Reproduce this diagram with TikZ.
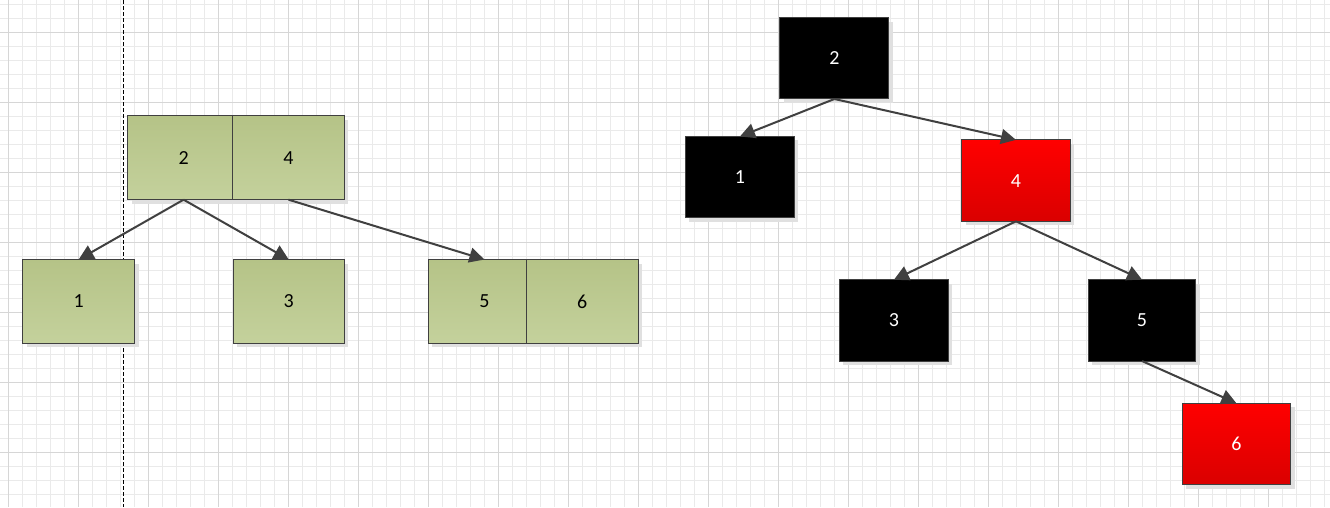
\documentclass[tikz,border=0pt]{standalone}
\usepackage{fontspec}
\setmainfont{Carlito}
\usetikzlibrary{arrows.meta,positioning,shadows}
\definecolor{gridminor}{RGB}{234,234,234}
\definecolor{gridmajor}{RGB}{214,214,214}
\definecolor{edgegray}{RGB}{64,64,64}
\definecolor{olivetop}{RGB}{181,195,135}
\definecolor{olivebot}{RGB}{196,209,156}
\definecolor{redtop}{RGB}{255,0,0}
\definecolor{redbot}{RGB}{218,0,0}
\tikzset{
  cell/.style={draw=edgegray, line width=1pt, inner sep=0pt, outer sep=0pt,
    font=\fontsize{20}{24}\selectfont,
    drop shadow={shadow xshift=4pt, shadow yshift=-4pt, fill=black!12, opacity=1}},
  olivecell/.style={cell, top color=olivetop, bottom color=olivebot, text=black,
    minimum width=112pt, minimum height=84pt},
  blackcell/.style={cell, fill=black, text=white, minimum width=109pt, minimum height=81.5pt},
  redcell/.style={cell, top color=redtop, bottom color=redbot, text=white,
    minimum width=108.5pt, minimum height=81.5pt},
  link/.style={draw=edgegray, line width=2pt, -{Triangle[length=15pt,width=15pt]}},
}
\begin{document}
\begin{tikzpicture}[x=1pt,y=-1pt]
  \fill[white] (0,0) rectangle (1330,507);
  \foreach \i in {0,...,94}
    \draw[gridminor,line width=0.8pt] (8.3+14*\i,0) -- (8.3+14*\i,507);
  \foreach \i in {0,...,35}
    \draw[gridminor,line width=0.8pt] (0,3.7+14*\i) -- (1330,3.7+14*\i);
  \foreach \i in {0,...,18}
    \draw[gridmajor,line width=0.8pt] (8.3+70*\i,0) -- (8.3+70*\i,507);
  \foreach \i in {0,...,6}
    \draw[gridmajor,line width=0.8pt] (0,31.7+70*\i) -- (1330,31.7+70*\i);
  \draw[black,line width=1pt,dash pattern=on 4pt off 2pt] (123.3,0) -- (123.3,507);

  \node[olivecell] (g2) at (183.3,157.3) {2};
  \node[olivecell] (g4) at (288.3,157.3) {4};
  \node[olivecell] (g1) at (78.3,301.2) {1};
  \node[olivecell, minimum width=111pt] (g3) at (288.5,301.2) {3};
  \node[olivecell] (g5) at (484.3,301.2) {5};
  \node[olivecell, minimum width=111.7pt] (g6) at (582.2,301.2) {6};
  \draw[link] (g2.south) -- (g1.north);
  \draw[link] (g2.south) -- (g3.north);
  \draw[link] (g4.south) -- (g5.north);

  \node[blackcell] (b2) at (834.5,57.8) {2};
  \node[blackcell] (b1) at (740,176.8) {1};
  \node[redcell] (b4) at (1016.2,180.2) {4};
  \node[blackcell] (b3) at (894,320.2) {3};
  \node[blackcell, minimum width=108pt] (b5) at (1142.3,320) {5};
  \node[redcell] (b6) at (1236.7,443.7) {6};
  \draw[link] (b2.south) -- (b1.north);
  \draw[link] (b2.south) -- (b4.north);
  \draw[link] (b4.south) -- (b3.north);
  \draw[link] (b4.south) -- (b5.north);
  \draw[link] (b5.south) -- (b6.north);
\end{tikzpicture}
\end{document}
